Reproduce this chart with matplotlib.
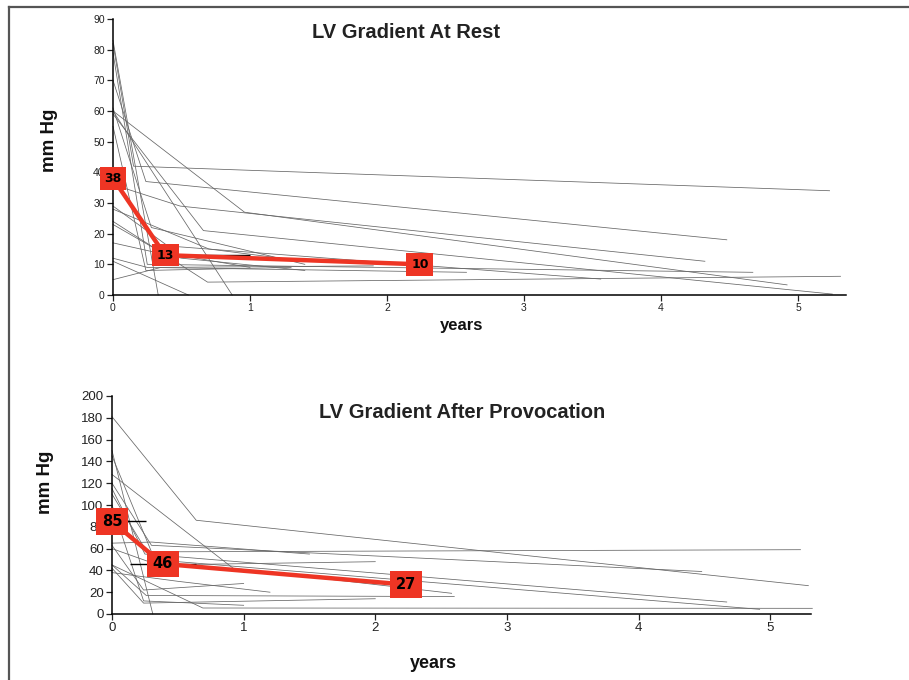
import matplotlib
matplotlib.use("Agg")
import matplotlib.pyplot as plt
from matplotlib.lines import Line2D

plt.rcParams['font.family'] = ['Liberation Sans', 'DejaVu Sans']

W, H = 909, 680

# ---------------- data: LV gradient at rest ----------------
rest_times = [
    [0, 0.15, 5.23], [0, 0.24, 4.48], [0, 0.96, 4.92], [0, 0.49, 4.32],
    [0, 0.66, 5.25], [0, 0.25, 4.67], [0, 0.40, 3.56], [0, 0.69, 5.31],
    [0, 0.25, 2.58], [0, 0.87], [0, 0.55], [0, 0.33],
    [0, 0.24, 1.30], [0, 0.50, 1.40], [0, 0.35, 1.90], [0, 0.35, 1.00],
    [0, 0.28, 1.40], [0, 0.70, 1.40],
]
rest_values = [
    [82, 42, 34], [70, 37, 18], [60, 27, 3.3], [36, 29, 11],
    [59, 21, 0.3], [79, 10, 7.4], [29, 16, 5.2], [24, 4.2, 6.1],
    [12, 9, 7.4], [60, 0], [11, 0], [83, 0],
    [55, 8, 9], [17, 12, 8], [5, 9, 9.5], [23, 14, 9],
    [61, 22, 10], [28, 15, 11],
]
rest_mean_t = [0, 0.38, 2.24]
rest_mean_v = [38, 13, 10]
rest_xerr_lo = [0, 0, 0]
rest_xerr_hi = [0, 0.62, 0]

# ---------------- data: LV gradient after provocation ----------------
prov_times = [
    [0, 0.64, 5.29], [0, 0.31], [0, 0.30, 5.23], [0, 0.92, 2.58],
    [0, 0.30, 4.48], [0, 0.25, 4.67], [0, 0.30, 4.92], [0, 0.24, 1.00],
    [0, 0.30, 1.50], [0, 0.24, 1.00], [0, 0.26, 2.60], [0, 0.24, 2.00],
    [0, 0.50, 1.20], [0, 0.69, 5.32], [0, 0.35, 2.00],
]
prov_values = [
    [181, 86, 26], [150, 0], [145, 57, 59], [128, 42, 19],
    [120, 63, 39], [115, 55, 11], [110, 50, 4.3], [100, 12, 8],
    [65, 66, 55], [63, 22, 28], [45, 17, 16], [42, 10, 14],
    [38, 30, 20], [45, 5.5, 5.2], [60, 45, 48],
]
prov_mean_t = [0, 0.385, 2.23]
prov_mean_v = [85, 46, 27]
prov_xerr_lo = [0, 0.25, 0]
prov_xerr_hi = [0.26, 0.25, 0]

x_ticks = [0, 1, 2, 3, 4, 5]
rest_yticks = list(range(0, 91, 10))
prov_yticks = list(range(0, 201, 20))

RED = '#ee3524'
GRAY = '#666666'


def fx(px):
    return px / W


def fy(py):
    return 1 - py / H


fig = plt.figure(figsize=(W / 100, H / 100), dpi=100)

# frame lines (top and left only visible)
fig.add_artist(Line2D([fx(9), 1], [fy(6.5), fy(6.5)], transform=fig.transFigure,
                      color='#555555', lw=1.6))
fig.add_artist(Line2D([fx(9), fx(9)], [0, fy(6.5)], transform=fig.transFigure,
                      color='#555555', lw=1.6))


def panel(rect, xlim, ylim, yticks, times, values, mt, mv, xlo, xhi,
          tick_fs, box_fs, box_pad):
    ax = fig.add_axes(rect)
    for t, v in zip(times, values):
        ax.plot(t, v, color=GRAY, lw=0.55, zorder=2, clip_on=False)
    ax.errorbar(mt, mv, xerr=[xlo, xhi], fmt='none', ecolor='black',
                elinewidth=1.0, capsize=0, zorder=3)
    ax.plot(mt, mv, color=RED, lw=3.2, zorder=4, solid_joinstyle='miter')
    for t, v in zip(mt, mv):
        ax.text(t, v, str(v), ha='center', va='center', fontsize=box_fs,
                fontweight='bold', color='black', zorder=6, clip_on=False,
                family=['DejaVu Sans'],
                bbox=dict(boxstyle='square,pad=%.2f' % box_pad, fc=RED, ec='none'))
    ax.set_xlim(*xlim)
    ax.set_ylim(*ylim)
    ax.set_xticks(x_ticks)
    ax.set_yticks(yticks)
    for s in ('top', 'right'):
        ax.spines[s].set_visible(False)
    for s in ('left', 'bottom'):
        ax.spines[s].set_linewidth(1.1)
        ax.spines[s].set_color('black')
    ax.tick_params(axis='both', direction='out', length=4, width=0.9,
                   labelsize=tick_fs, colors='#222222', pad=2)
    ax.set_facecolor('none')
    return ax


# top panel
panel([fx(113), fy(295), fx(846) - fx(113), fy(19) - fy(295)],
      (0, 5.35), (0, 90), rest_yticks, rest_times, rest_values,
      rest_mean_t, rest_mean_v, rest_xerr_lo, rest_xerr_hi, 7.5, 9, 0.38)

# bottom panel
panel([fx(112), fy(614), fx(811) - fx(112), fy(396) - fy(614)],
      (0, 5.31), (0, 200), prov_yticks, prov_times, prov_values,
      prov_mean_t, prov_mean_v, prov_xerr_lo, prov_xerr_hi, 9.5, 10.5, 0.4)

# titles and axis labels
fig.text(fx(406), fy(33), 'LV Gradient At Rest', ha='center', va='center',
         fontsize=14.5, fontweight='bold', color='#222222')
fig.text(fx(462), fy(413), 'LV Gradient After Provocation', ha='center',
         va='center', fontsize=14.5, fontweight='bold', color='#222222')
fig.text(fx(50), fy(140), 'mm Hg', ha='center', va='center', rotation=90,
         fontsize=13.5, fontweight='bold', color='#111111')
fig.text(fx(46), fy(482), 'mm Hg', ha='center', va='center', rotation=90,
         fontsize=13.5, fontweight='bold', color='#111111')
fig.text(fx(462), fy(325), 'years', ha='center', va='center',
         fontsize=12, fontweight='bold', color='#111111')
fig.text(fx(433), fy(664), 'years', ha='center', va='center',
         fontsize=13, fontweight='bold', color='#111111')

fig.savefig('out.png', dpi=100)
